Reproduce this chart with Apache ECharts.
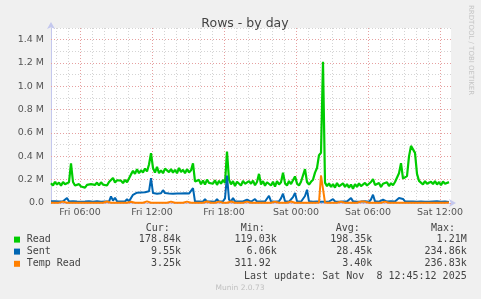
<!DOCTYPE html>
<html><head><meta charset="utf-8">
<script src="https://cdn.jsdelivr.net/npm/echarts@6/dist/echarts.min.js"></script>
<style>html,body{margin:0;padding:0;background:#f0f0f0}#c{width:481px;height:299px}</style>
</head><body><div id="c"></div><script>
// time axis: hours counted from Fri 00:00
const startHour = 3 + 35/60;      // Fri 03:35 (left edge)
const endHour = startHour + 33 + 20/60; // 33h20m window
const stepHours = 10/60;          // one sample every 10 minutes
const dayNames = ['Fri', 'Sat'];
const yTicksM = [0, 0.2, 0.4, 0.6, 0.8, 1.0, 1.2, 1.4];

// values in thousands (k)
const readK = [
170,150,182,158,176,148,180,160,145,178,
340,180,
150,138,162,142,158,132,155,140,162,145,
155,175,150,178,158,172,150,180,
185,215,175,195,182,
192,170,198,178,185,
245,275,250,290,255,
280,262,295,270,330,
428,
300,260,310,255,
280,255,295,310,265,290,260,285,255,300,265,285,255,290,262,280,
340,185,
170,198,160,192,158,200,172,185,165,195,155,190,165,198,172,
440,200,
160,188,145,182,195,150,190,165,150,188,
165,192,152,180,250,
158,188,148,178,192,150,182,140,188,158,178,
260,
170,150,188,162,195,228,168,150,182,172,
290,180,
158,182,200,260,
300,410,430,1210,175,
145,168,138,162,132,172,142,128,168,138,162,132,158,122,162,138,168,145,135,172,150,138,180,205,155,142,172,138,165,148,178,145,170,152,180,
180,255,342,210,200,230,400,490,495,430,250,190,
180,158,188,165,152,182,162,188,158,180,152,185,165,172,178.84
];
const sentK = [
15,12,14,10,13,12,15,14,
43,12,20,
14,10,12,15,11,13,12,10,14,12,11,13,15,12,10,
25,
12,14,12,
57,20,45,15,14,12,15,13,32,14,30,70,85,
88,85,90,86,92,88,100,
214,85,
82,80,85,83,110,85,80,82,84,80,83,81,85,82,80,84,83,81,86,
128,12,
10,12,14,11,34,12,10,13,12,11,34,12,10,15,40,
235,30,
12,43,14,11,12,10,13,12,28,12,
11,13,34,12,14,
12,10,13,20,62,14,12,11,13,15,40,80,14,12,11,14,50,86,15,12,11,13,60,114,14,12,11,13,12,14,10,12,11,
12,13,25,34,13,12,11,14,12,10,13,30,43,14,
12,11,13,12,10,14,12,11,30,
71,
14,12,11,13,28,13,12,11,14,12,13,
20,43,50,35,
14,12,13,11,12,14,10,12,13,15,11,12,10,13,12,11,14,12,10,11,12,10,9.55
];
const tempReadK = [
2.1,1.8,2.6,1.5,3.0,2.2,12,2.8,1.9,2.4,
2.0,1.7,2.5,2.9,1.6,2.3,2.0,2.7,1.8,2.2,
2.6,1.9,2.4,2.1,1.5,2.8,2.0,2.3,13,2.5,
1.8,2.2,2.7,1.6,2.4,2.0,2.9,1.7,2.3,2.1,
11,2.6,1.9,2.4,2.2,1.8,2.7,2.0,14,2.3,
2.5,1.6,2.1,2.8,1.9,2.4,2.2,1.7,2.6,2.0,
12,2.3,1.8,13,2.5,2.1,1.9,2.7,12,2.2,
2.4,14,2.0,2.6,1.8,2.3,2.1,2.9,13,1.7,
2.4,2.0,2.6,1.9,12,2.3,2.1,11,2.5,1.8,
13,2.2,2.7,1.6,2.4,2.0,2.8,1.9,12,2.3,
2.1,2.6,1.8,2.4,2.0,2.9,1.7,13,2.2,2.5,
1.9,2.3,12,2.0,2.6,1.8,2.4,2.1,2.7,2.2,
13,1.9,2.5,2.0,2.3,1.6,2.8,2.1,2.4,1.9,
2.2,2.6,2.0,2.4,5,236,236,4,2.3,1.8,
2.5,2.1,2.7,1.9,2.2,12,2.4,2.0,2.6,1.8,
2.3,2.1,1.9,2.5,2.0,13,2.4,12,2.2,1.7,
2.6,2.0,13,2.3,1.9,2.5,2.1,12,2.4,2.0,
2.2,2.7,1.8,2.4,2.0,2.6,1.9,2.3,13,2.1,
2.5,1.8,2.2,2.6,0.31,2.4,2.0,2.3,12,2.1,
1.9,2.5,2.2,2.0,2.6,2.3,2.1,2.4,12,3.25
];
const seriesNames = ['Read', 'Sent', 'Temp Read'];
const seriesColors = ['#00CC00', '#0066B3', '#FF8000'];
const seriesWidths = [2.2, 2, 2];
const statCur = ['178.84k', '9.55k', '3.25k'];
const statMin = ['119.03k', '6.06k', '311.92 '];
const statAvg = ['198.35k', '28.45k', '3.40k'];
const statMax = ['1.21M', '234.86k', '236.83k'];

function toPoints(arrK) {
  return arrK.map((v, i) => [startHour + i * stepHours, v / 1000]);
}
function fmtX(v) {
  const d = Math.floor(v / 24 + 1e-9);
  const h = Math.round(v - d * 24);
  return dayNames[d] + ' ' + String(h).padStart(2, '0') + ':00';
}
const axisCol = '#c4c8ee';
const minorGrid = {show: true, showMinLine: false, showMaxLine: false, lineStyle: {color: '#d4d4d4', type: [1, 2], width: 1}};
const majorGrid = {show: true, showMinLine: false, showMaxLine: false, lineStyle: {color: '#e6a0a0', type: [1, 2], width: 1}};
const labelFont = {fontFamily: 'DejaVu Sans', fontSize: 9.5, color: '#555'};

const chart = echarts.init(document.getElementById('c'));
const mono = '10px "DejaVu Sans Mono"';
const graphics = [];
function txt(s, x, y, align, font, fill) {
  graphics.push({type: 'text', silent: true, style: {text: s, x: x, y: y, align: align, verticalAlign: 'middle', font: font || mono, fill: fill || '#444'}});
}
txt('Cur:', 145.7, 228.3, 'left');
txt('Min:', 240.7, 228.3, 'left');
txt('Avg:', 335.7, 228.3, 'left');
txt('Max:', 431, 228.3, 'left');
const rowY = [239.6, 251.6, 263.8];
seriesNames.forEach((n, k) => {
  graphics.push({type: 'rect', silent: true, shape: {x: 14, y: rowY[k] - 3, width: 6, height: 6}, style: {fill: seriesColors[k]}});
  txt(n, 26.7, rowY[k], 'left');
  txt(statCur[k], 181, rowY[k], 'right');
  txt(statMin[k], 276.7, rowY[k], 'right');
  txt(statAvg[k], 372.3, rowY[k], 'right');
  txt(statMax[k], 466.7, rowY[k], 'right');
});
txt('Last update: Sat Nov  8 12:45:12 2025', 466.7, 276, 'right');
txt('Munin 2.0.73', 240, 287.7, 'center', '7.5px "DejaVu Sans"', '#c0c0c0');
graphics.push({type: 'text', silent: true, x: 470.5, y: 5, rotation: -Math.PI / 2,
  style: {text: 'RRDTOOL / TOBI OETIKER', x: 0, y: 0, align: 'left', verticalAlign: 'middle', font: '7px "DejaVu Sans"', fill: '#c4c4c4'}});

const option = {
  animation: false,
  backgroundColor: '#f0f0f0',
  title: {text: 'Rows - by day', left: 240, top: 12, textAlign: 'center',
    textStyle: {fontFamily: 'DejaVu Sans', fontSize: 12.5, fontWeight: 'normal', color: '#444'}},
  grid: {left: 51, top: 28, width: 400, height: 175, show: true, backgroundColor: '#ffffff', borderWidth: 0},
  xAxis: [
    {type: 'value', min: startHour, max: endHour, minInterval: 1, maxInterval: 1, position: 'bottom',
     axisLabel: {show: false}, axisTick: {show: false}, splitLine: minorGrid,
     axisLine: {show: true, lineStyle: {color: axisCol, width: 1}, symbol: ['none', 'arrow'], symbolSize: [6, 7], symbolOffset: [0, 5]}},
    {type: 'value', min: startHour, max: endHour, minInterval: 6, maxInterval: 6, position: 'bottom', z: 3,
     axisLine: {show: false}, axisTick: {show: false}, splitLine: majorGrid,
     axisLabel: Object.assign({formatter: fmtX, margin: 5, showMinLabel: false, showMaxLabel: false}, labelFont)}
  ],
  yAxis: [
    {type: 'value', min: 0, max: 1.5, interval: 0.1, axisLabel: {show: false}, axisTick: {show: false},
     splitLine: {show: true, lineStyle: {color: '#d4d4d4', type: [1, 2], width: 1}},
     axisLine: {show: true, lineStyle: {color: axisCol, width: 1}, symbol: ['none', 'arrow'], symbolSize: [6, 7], symbolOffset: [0, 6]}},
    {type: 'value', min: 0, max: 1.5, interval: 0.2, position: 'left', z: 3,
     axisLine: {show: false}, axisTick: {show: false},
     splitLine: {show: true, showMaxLine: false, lineStyle: {color: ['#e6a0a0','#e6a0a0','#e6a0a0','#e6a0a0','#e6a0a0','#e6a0a0','#e6a0a0','#e6a0a0','#d4d4d4'], type: [1, 2], width: 1}},
     axisLabel: Object.assign({margin: 7, showMaxLabel: false,
       formatter: v => (yTicksM.indexOf(Math.round(v * 10) / 10) < 0 ? '' : (v === 0 ? '0.0' : v.toFixed(1) + ' M'))}, labelFont)}
  ],
  series: [readK, sentK, tempReadK].map((arr, k) => ({
    name: seriesNames[k], type: 'line', xAxisIndex: 0, yAxisIndex: 0, showSymbol: false, z: 5 + k,
    lineStyle: {color: seriesColors[k], width: seriesWidths[k]}, itemStyle: {color: seriesColors[k]},
    data: toPoints(arr)
  })),
  graphic: graphics
};
chart.setOption(option);
</script></body></html>
